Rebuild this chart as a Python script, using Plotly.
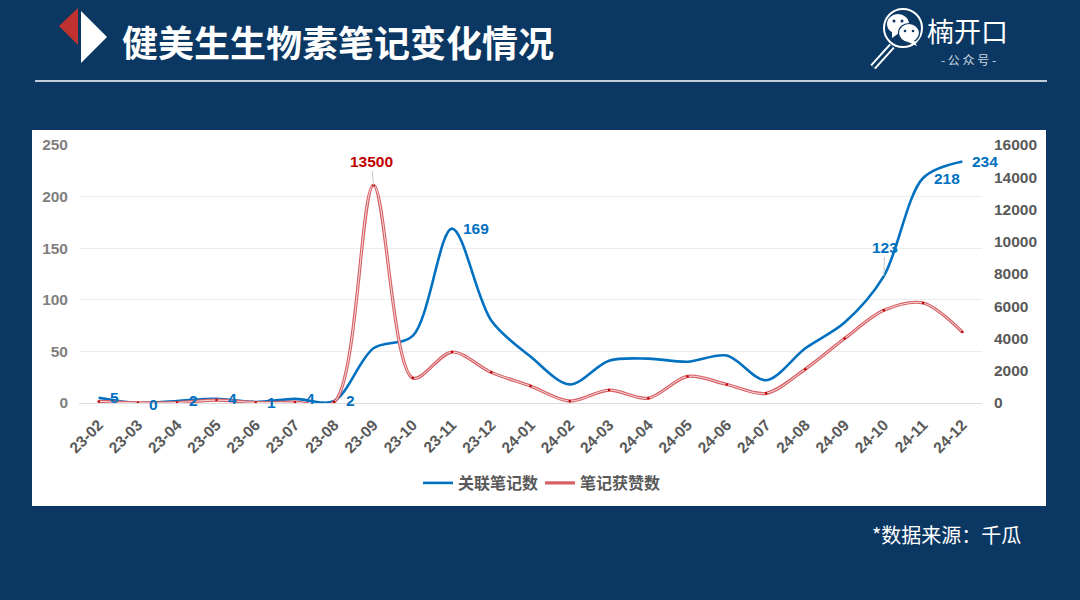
import plotly.graph_objects as go

months = ["23-02","23-03","23-04","23-05","23-06","23-07","23-08","23-09","23-10","23-11","23-12",
          "24-01","24-02","24-03","24-04","24-05","24-06","24-07","24-08","24-09","24-10","24-11","24-12"]
notes = [5,0,2,4,1,4,2,53,65,169,80,45,18,41,43,40,46,22,53,78,123,218,234]
likes = [100,10,30,180,30,50,60,13500,1550,3160,1900,1050,120,800,300,1650,1150,600,2100,4000,5750,6200,4400]
note_name = "关联笔记数"
like_name = "笔记获赞数"
title_text = "健美生生物素笔记变化情况"
source_text = "*数据来源：千瓜"
brand_text = "楠开口"
brand_sub = "- 公 众 号 -"

W, H = 1080, 600
NAVY = "#0b3763"
BLUE = "#0070c0"
RED = "#d65f65"
SANS = "Liberation Sans, Arial, Noto Sans CJK SC, sans-serif"
CJK = "Noto Sans CJK SC, sans-serif"

def px(x): return x / W
def py(y): return 1 - y / H

def path(points):
    s = "M " + " L ".join(f"{px(x):.5f},{py(y):.5f}" for x, y in points) + " Z"
    return s

def rect(x0, y0, x1, y1, color, layer="below"):
    return dict(type="rect", xref="paper", yref="paper", x0=px(x0), x1=px(x1), y0=py(y0), y1=py(y1),
                fillcolor=color, line_width=0, layer=layer)

def ell(cx, cy, rx, ry, fill, line=None, lw=0):
    return dict(type="circle", xref="paper", yref="paper", x0=px(cx-rx), x1=px(cx+rx), y0=py(cy+ry), y1=py(cy-ry),
                fillcolor=fill, line=dict(color=line or fill, width=lw), layer="above")

def seg(x0, y0, x1, y1, color, w):
    return dict(type="line", xref="paper", yref="paper", x0=px(x0), x1=px(x1), y0=py(y0), y1=py(y1),
                line=dict(color=color, width=w), layer="above")

shapes = [
    rect(32, 130, 1046, 506, "white"),
    seg(35, 81, 1047, 81, "white", 1.5),
    dict(type="path", xref="paper", yref="paper", path=path([(78, 8), (59, 26), (78, 45)]), fillcolor="#c0322f", line_width=0),
    dict(type="path", xref="paper", yref="paper", path=path([(81, 11), (107, 37), (81, 63)]), fillcolor="white", line_width=0),
    # logo
    seg(892, 46, 873, 67, "white", 7),
    seg(892, 46, 873, 67, NAVY, 3),
    ell(903, 28, 19, 19, NAVY, "white", 2),
    ell(898, 24, 11, 10, "white"),
    dict(type="path", xref="paper", yref="paper", path=path([(892, 31), (892, 38), (899, 33)]), fillcolor="white", line_width=0),
    ell(909, 33, 10.5, 9.5, "white", NAVY, 1.2),
    dict(type="path", xref="paper", yref="paper", path=path([(914, 40), (917, 46), (908, 42)]), fillcolor="white", line_width=0),
    ell(894, 21, 1.5, 1.5, NAVY), ell(902, 21, 1.5, 1.5, NAVY),
    ell(905, 31, 1.3, 1.3, NAVY), ell(913, 31, 1.3, 1.3, NAVY),
]

fig = go.Figure()
fig.add_trace(go.Scatter(x=months, y=notes, name=note_name, mode="lines",
                         line=dict(color=BLUE, width=2.6, shape="spline", smoothing=0.9), yaxis="y"))
fig.add_trace(go.Scatter(x=months, y=likes, name=like_name, mode="lines",
                         line=dict(color=RED, width=3.2, shape="spline", smoothing=0.9), yaxis="y2"))
fig.add_trace(go.Scatter(x=months, y=likes, showlegend=False, mode="lines+markers", hoverinfo="skip",
                         line=dict(color="#f7dcdc", width=1, shape="spline", smoothing=0.9),
                         marker=dict(color="#c00000", size=2.5), yaxis="y2"))

ann = []
LAB = 15.5
def lab(i, text, dx, dy, color=BLUE, series="y", values=notes):
    ann.append(dict(x=months[i], y=values[i], xref="x", yref=series, text=f"<b>{text}</b>", showarrow=False,
                    xshift=dx, yshift=dy, font=dict(family=SANS, size=LAB, color=color)))
for i, dy in [(0, 0), (1, -1), (2, 0), (3, 0), (4, -1), (5, 0), (6, 0)]:
    lab(i, notes[i], 16, dy)
lab(9, notes[9], 24, 0)
lab(21, notes[21], 24, 0)
lab(22, notes[22], 23, 0)
ann.append(dict(x=months[20], y=notes[20], xref="x", yref="y", text=f"<b>{notes[20]}</b>", showarrow=True,
                arrowhead=0, arrowwidth=1, arrowcolor="#c8c8c8", ax=1, ay=-29, font=dict(family=SANS, size=LAB, color=BLUE)))
ann.append(dict(x=months[7], y=likes[7], xref="x", yref="y2", text=f"<b>{likes[7]}</b>", showarrow=True,
                arrowhead=0, arrowwidth=1, arrowcolor="#c8c8c8", ax=-2, ay=-24, font=dict(family=SANS, size=LAB, color="#c00000")))

def text(x, y, s, size, color="white", family=CJK, anchor="left", bold=False):
    ann.append(dict(xref="paper", yref="paper", x=px(x), y=py(y), text=f"<b>{s}</b>" if bold else s, showarrow=False,
                    xanchor=anchor, yanchor="middle", font=dict(family=family, size=size, color=color)))
text(120, 41, title_text, 36, bold=True)
text(870, 534, source_text, 20)
text(967, 30, brand_text, 27, anchor="center")
text(968, 59, brand_sub, 12, color="#cdd7e2", anchor="center")

tick = dict(family=SANS, size=15.5, weight="bold")
fig.update_layout(
    width=W, height=H, autosize=False, margin=dict(l=0, r=0, t=0, b=0, pad=0, autoexpand=False),
    paper_bgcolor=NAVY, plot_bgcolor="rgba(0,0,0,0)", shapes=shapes, annotations=ann,
    xaxis=dict(domain=[px(79), px(982)], type="category", range=[-0.5, 22.5], tickangle=-45, showgrid=False, zeroline=False,
               showline=False, ticks="", ticklabelstandoff=9, tickfont=dict(color="#595959", **tick)),
    yaxis=dict(domain=[py(403), py(145)], range=[0, 250], tickvals=[0, 50, 100, 150, 200, 250], showgrid=True,
               gridcolor="#ececec", gridwidth=1, zeroline=True, zerolinecolor="#dddddd", zerolinewidth=1,
               ticks="", ticklabelstandoff=10, tickfont=dict(color="#7f7f7f", **tick)),
    yaxis2=dict(overlaying="y", side="right", anchor="x", range=[0, 16000], tickformat="d",
                tickvals=list(range(0, 16001, 2000)), showgrid=False, zeroline=False, ticks="",
                ticklabelstandoff=11, tickfont=dict(color="#595959", **tick)),
    legend=dict(orientation="h", x=px(540), xanchor="center", y=py(483), yanchor="middle",
                bgcolor="rgba(0,0,0,0)", font=dict(family=CJK, size=16, color="#595959", weight="bold"),
                itemwidth=30, entrywidth=77, entrywidthmode="pixels", tracegroupgap=0),
    hovermode=False,
)
fig.write_html("out.html", config={"displayModeBar": False},
               post_script="document.body.style.margin='0';document.body.style.background='#0b3763';")
